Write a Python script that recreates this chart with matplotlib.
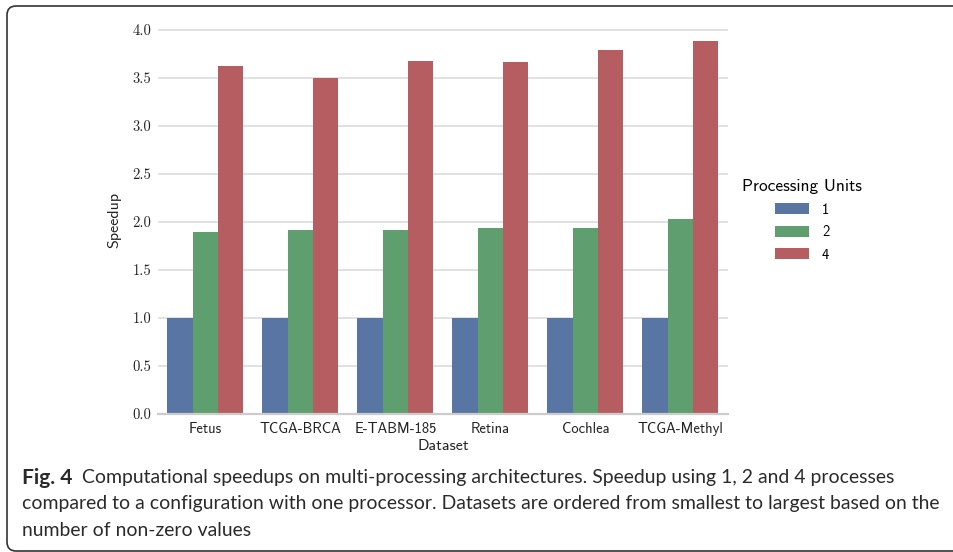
import matplotlib
matplotlib.use("Agg")
import matplotlib.pyplot as plt
from matplotlib.patches import FancyBboxPatch, Patch
from matplotlib.transforms import IdentityTransform
import numpy as np

plt.rcParams['axes.unicode_minus'] = False

datasets = ["Fetus", "TCGA-BRCA", "E-TABM-185", "Retina", "Cochlea", "TCGA-Methyl"]
units = ["1", "2", "4"]
speedup_1 = [1.0, 1.0, 1.0, 1.0, 1.0, 1.0]
speedup_2 = [1.896, 1.917, 1.917, 1.94, 1.94, 2.03]
speedup_4 = [3.625, 3.5, 3.677, 3.667, 3.792, 3.885]
yticks = [0.0, 0.5, 1.0, 1.5, 2.0, 2.5, 3.0, 3.5, 4.0]

colors = ["#5975a4", "#5f9e6e", "#b55d60"]

W, H = 954, 552
fig = plt.figure(figsize=(W / 100, H / 100), dpi=100)

# border box (display pixel coordinates, origin bottom-left)
box = FancyBboxPatch((7, 1), 1010, 545,
                     boxstyle="round,pad=0,rounding_size=9",
                     transform=IdentityTransform(), fill=False,
                     edgecolor="#333333", linewidth=1.2, clip_on=False)
fig.patches.append(box)

ax_l, ax_r, ax_b = 158, 728, 414
ymax = 4.05
ax_t = ax_b - ymax * 96
ax = fig.add_axes([ax_l / W, 1 - ax_b / H, (ax_r - ax_l) / W, (ax_b - ax_t) / H])

series = [speedup_1, speedup_2, speedup_4]
n = len(series)
group_w = 0.8
bw = group_w / n
x = np.arange(len(datasets))
for j, (vals, c) in enumerate(zip(series, colors)):
    ax.bar(x - group_w / 2 + bw * (j + 0.5), vals, width=bw, color=c,
           edgecolor="none", zorder=2)

ax.set_xlim(-0.5, len(datasets) - 0.5)
ax.set_ylim(0, ymax)
ax.set_yticks(yticks)
ax.set_yticklabels([f"{v:.1f}" for v in yticks], fontfamily="cmr10", fontsize=10.5,
                   color="#222222")
ax.set_xticks(x)
ax.set_xticklabels(datasets, fontfamily="cmss10", fontsize=10.5, color="#222222")
ax.tick_params(axis="both", length=0)
ax.tick_params(axis="y", pad=5)
ax.tick_params(axis="x", pad=6)
ax.yaxis.grid(True, color="#dcdcdc", linewidth=1.2, zorder=0)
ax.set_axisbelow(True)
for s in ["left", "right", "top"]:
    ax.spines[s].set_visible(False)
ax.spines["bottom"].set_color("#cccccc")
ax.spines["bottom"].set_linewidth(1.6)
ax.set_xlabel("Dataset", fontfamily="cmss10", fontsize=11.5, color="#222222", labelpad=2)
ax.set_ylabel("Speedup", fontfamily="cmss10", fontsize=11.5, color="#222222", labelpad=8)

handles = [Patch(facecolor=c, edgecolor="none") for c in colors]
leg = fig.legend(handles, units, title="Processing Units", frameon=False,
                 loc="upper left", bbox_to_anchor=(735 / W, 1 - 172 / H),
                 prop={"family": "cmss10", "size": 10.5},
                 title_fontproperties={"family": "cmss10", "size": 12.5},
                 handlelength=2.3, handleheight=0.8, handletextpad=0.9,
                 labelspacing=0.58, borderpad=0)

# caption
fam = "Lato"
line1 = "Computational speedups on multi-processing architectures. Speedup using 1, 2 and 4 processes"
line2 = "compared to a configuration with one processor. Datasets are ordered from smallest to largest based on the"
line3 = "number of non-zero values"
cap_color = "#2a2a2a"

cap_size = 13
t1 = fig.text(22 / W, 1 - 478 / H, "Fig. 4", fontfamily=fam, fontweight="bold",
              fontsize=cap_size, va="center", ha="left", color=cap_color)
t2 = fig.text(22 / W, 1 - 504 / H, line2, fontfamily=fam, fontsize=cap_size,
              va="center", ha="left", color=cap_color)
fig.canvas.draw()
# fit line 2 to the reference width (22 px to 940 px)
w2 = t2.get_window_extent().width
cap_size = cap_size * (916 / w2)
t1.set_fontsize(cap_size * 1.08)
t2.set_fontsize(cap_size)
fig.canvas.draw()
bb = t1.get_window_extent()
fig.text((bb.x1 + 10) / W, 1 - 478 / H, line1,
         fontfamily=fam, fontsize=cap_size, va="center", ha="left", color=cap_color)
fig.text(22 / W, 1 - 530 / H, line3,
         fontfamily=fam, fontsize=cap_size, va="center", ha="left", color=cap_color)

fig.savefig("out.png", dpi=100)
